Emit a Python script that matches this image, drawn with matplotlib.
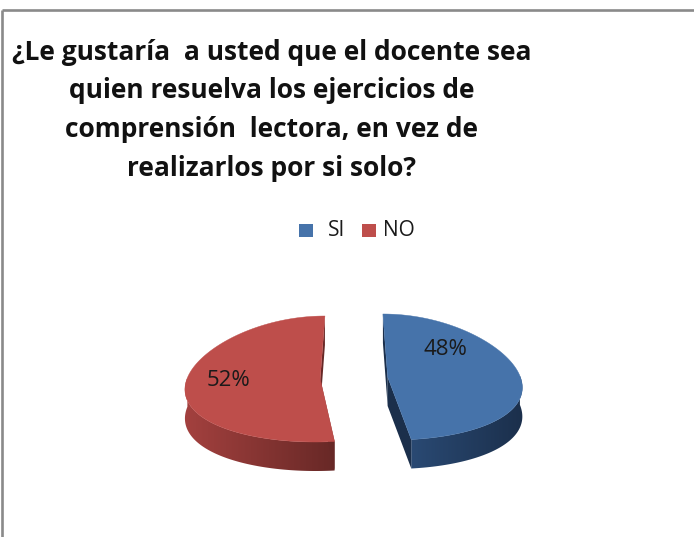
import numpy as np
import matplotlib.pyplot as plt
from matplotlib.patches import Polygon
from matplotlib.colors import LinearSegmentedColormap

plt.rcParams['font.family'] = ['Open Sans', 'DejaVu Sans']

labels = ["SI", "NO"]
values = [48, 52]
top_colors = ["#4673AA", "#BE4E4B"]
wall_light = ["#2A4A74", "#A4413F"]
wall_dark = ["#1B2F4B", "#672826"]

title_lines = ["¿Le gustaría  a usted que el docente sea",
               "quien resuelva los ejercicios de",
               "comprensión  lectora, en vez de",
               "realizarlos por si solo?"]

# pie geometry in pixels
cx, cy = 354, 378
rx, ry = 133, 63
depth = 29
explode = 0.254
persp = 0.14


def project(u, v, z=0.0):
    # flat disk tilted towards the viewer, near side a bit wider
    x = cx + rx * u * (1 - persp * v)
    y = cy - ry * v + z * depth
    return x, y


fig = plt.figure(figsize=(6.94, 5.37), dpi=100)
ax = fig.add_axes([0, 0, 1, 1])
ax.set_xlim(0, 694)
ax.set_ylim(537, 0)
ax.axis("off")

# chart frame (only top and left edges show)
ax.plot([2, 694], [9.5, 9.5], color="#8A8A8A", lw=1.9, solid_capstyle="butt")
ax.plot([2, 2], [9.5, 537], color="#8A8A8A", lw=1.9, solid_capstyle="butt")

for j, line in enumerate(title_lines):
    ax.text(272, 52 + j * 38.7, line, ha="center", va="center", fontsize=19,
            fontweight="bold", color="#111111")

total = sum(values)
start = 90.0
label_shift = [(-0.14, 0.40), (-0.07, 0.02)]
for i, val in enumerate(values):
    sweep = 360.0 * val / total
    a0, a1 = start, start - sweep
    mid = np.radians((a0 + a1) / 2)
    ou, ov = explode * np.cos(mid), explode * np.sin(mid)
    th = np.radians(np.linspace(a0, a1, 300))

    # radial faces
    for a in (a0, a1):
        t = np.radians(a)
        pts = [project(ou, ov), project(ou + np.cos(t), ov + np.sin(t)),
               project(ou + np.cos(t), ov + np.sin(t), 1), project(ou, ov, 1)]
        ax.add_patch(Polygon(pts, closed=True, fc=wall_dark[i], ec="none"))

    # outer wall on the front half, shaded left to right
    front = th[np.sin(th) <= 0.02]
    upper = [project(ou + np.cos(t), ov + np.sin(t)) for t in front]
    lower = [project(ou + np.cos(t), ov + np.sin(t), 1) for t in front[::-1]]
    wall = Polygon(upper + lower, closed=True, fc="none", ec="none")
    ax.add_patch(wall)
    xs = [p[0] for p in upper]
    cmap = LinearSegmentedColormap.from_list("w", [wall_light[i], wall_dark[i]])
    img = ax.imshow(np.linspace(0, 1, 256)[None, :], cmap=cmap, aspect="auto",
                    extent=(min(xs) - 2, max(xs) + 2, cy + ry + depth + 40, cy - ry - 40),
                    interpolation="bilinear")
    img.set_clip_path(wall)

    # top face
    pts = [project(ou, ov)] + [project(ou + np.cos(t), ov + np.sin(t)) for t in th]
    ax.add_patch(Polygon(pts, closed=True, fc=top_colors[i], ec=top_colors[i], lw=0.3))

    # data label
    lu = ou + 0.62 * np.cos(mid) + label_shift[i][0]
    lv = ov + 0.62 * np.sin(mid) + label_shift[i][1]
    lx, ly = project(lu, lv)
    ax.text(lx, ly, f"{val}%", ha="center", va="center", fontsize=16,
            color="#1A1A1A")
    start = a1

ax.set_xlim(0, 694)
ax.set_ylim(537, 0)

# legend
box_x = [299, 362]
text_x = [328, 383]
for i, lab in enumerate(labels):
    x0 = box_x[i]
    ax.add_patch(Polygon([(x0, 224), (x0 + 14, 224), (x0 + 14, 237), (x0, 237)],
                         closed=True, fc=top_colors[i], ec="none"))
    ax.text(text_x[i], 230, lab, ha="left", va="center", fontsize=15,
            color="#1A1A1A")

fig.savefig("out.png", dpi=100)
